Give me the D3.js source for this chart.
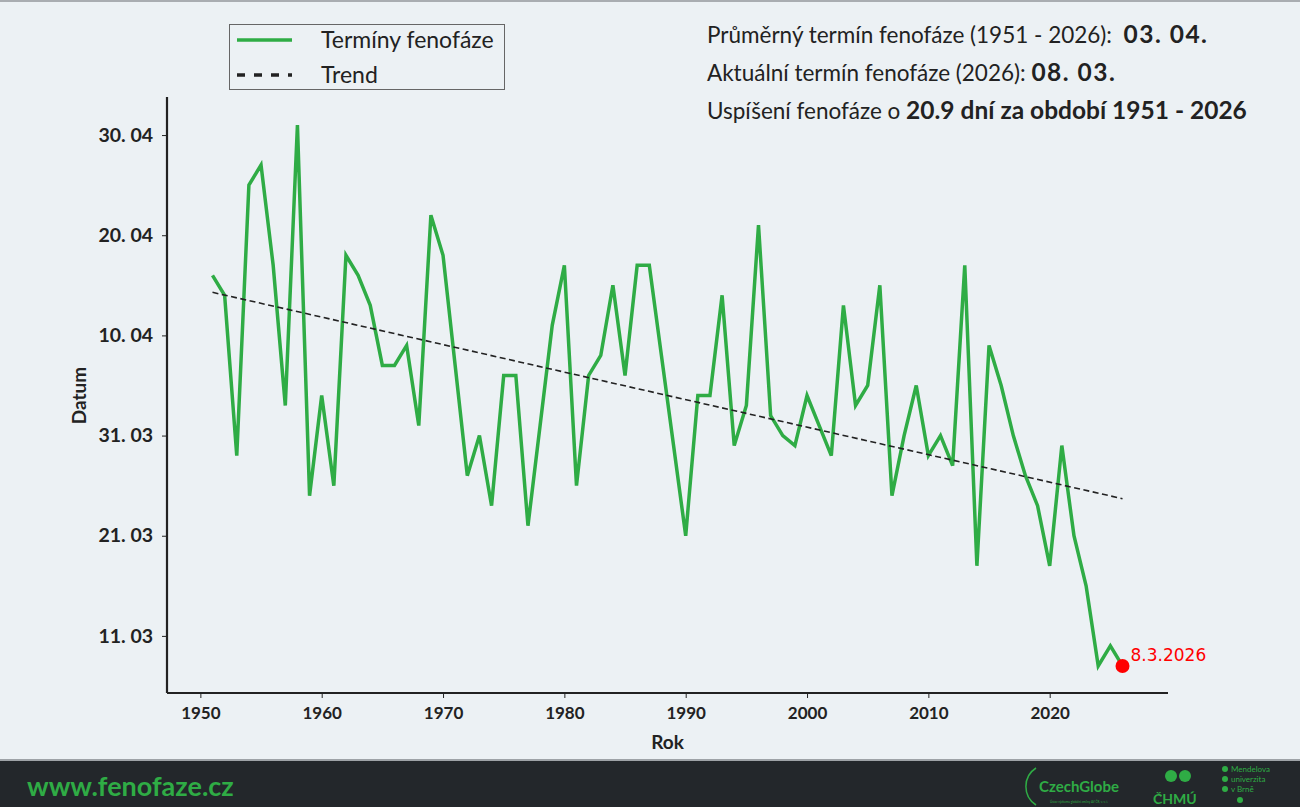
<!DOCTYPE html>
<html>
<head>
<meta charset="utf-8">
<script src="https://cdn.jsdelivr.net/npm/d3@7"></script>
<style>
  body { margin: 0; background: #ecf1f4; }
  svg { display: block; }
</style>
</head>
<body>
<div id="demo"></div>
<script>
var svgWidth = 1300
var svgHeight = 807

// years and day of year of the phenophase (1 = 1. 1.)
var years = [1951,1952,1953,1954,1955,1956,1957,1958,1959,1960,
             1961,1962,1963,1964,1965,1966,1967,1968,1969,1970,
             1971,1972,1973,1974,1975,1976,1977,1978,1979,1980,
             1981,1982,1983,1984,1985,1986,1987,1988,1989,1990,
             1991,1992,1993,1994,1995,1996,1997,1998,1999,2000,
             2001,2002,2003,2004,2005,2006,2007,2008,2009,2010,
             2011,2012,2013,2014,2015,2016,2017,2018,2019,2020,
             2021,2022,2023,2024,2025,2026]
var days = [106,104,88,115,117,107,93,121,84,94,
            85,108,106,103,97,97,99,91,112,108,
            97,86,90,83,96,96,81,91,101,107,
            85,96,98,105,96,107,107,98,89,80,
            94,94,104,89,93,111,92,90,89,94,
            91,88,103,93,95,105,84,90,95,88,
            90,87,107,77,99,95,90,86,83,77,
            89,80,75,67,69,67]

var xTicks = [1950,1960,1970,1980,1990,2000,2010,2020]
var yTicks = [70,80,90,100,110,120]
var yTickLabels = ["11. 03","21. 03","31. 03","10. 04","20. 04","30. 04"]

var legendLabels = ["Termíny fenofáze","Trend"]
var infoLines = [
    ["Průměrný termín fenofáze (1951 - 2026):  ", "03. 04."],
    ["Aktuální termín fenofáze (2026): ", "08. 03."],
    ["Uspíšení fenofáze o ", "20.9 dní za období 1951 - 2026"]
]
var lastLabel = "8.3.2026"

var green = "#2fac45"
var font = "Lato, 'Open Sans', sans-serif"

var svg = d3.select("#demo").append("svg")
    .attr("width", svgWidth)
    .attr("height", svgHeight)
    .style("font-family", font)

svg.append("rect")
    .attr("width", svgWidth).attr("height", svgHeight)
    .attr("fill", "#ecf1f4")
svg.append("rect")
    .attr("width", svgWidth).attr("height", 2)
    .attr("fill", "#a9adb1")

// axes area
var plotLeft = 167, plotRight = 1168, plotTop = 98, plotBottom = 693

// matplotlib style 5% margins
var xPad = (d3.max(years) - d3.min(years)) * 0.05
var yPad = (d3.max(days) - d3.min(days)) * 0.05
var x = d3.scaleLinear()
    .domain([d3.min(years) - xPad, d3.max(years) + xPad])
    .range([plotLeft, plotRight])
var y = d3.scaleLinear()
    .domain([d3.min(days) - yPad, d3.max(days) + yPad])
    .range([plotBottom, plotTop])

var data = years.map(function(d, i) { return {year: d, day: days[i]} })

// trend from least squares
var mx = d3.mean(years), my = d3.mean(days)
var sxy = d3.sum(data, function(d) { return (d.year - mx) * (d.day - my) })
var sxx = d3.sum(years, function(d) { return (d - mx) * (d - mx) })
var slope = sxy / sxx
var trend = [years[0], years[years.length - 1]].map(function(d) {
    return {year: d, day: my + slope * (d - mx)}
})

var line = d3.line()
    .x(function(d) { return x(d.year) })
    .y(function(d) { return y(d.day) })

svg.append("path")
    .datum(data)
    .attr("d", line)
    .attr("fill", "none")
    .attr("stroke", green)
    .attr("stroke-width", 3.5)
    .attr("stroke-linejoin", "miter")

svg.append("path")
    .datum(trend)
    .attr("d", line)
    .attr("fill", "none")
    .attr("stroke", "#222")
    .attr("stroke-width", 1.6)
    .attr("stroke-dasharray", "6,3.5")

// last point
var last = data[data.length - 1]
svg.append("circle")
    .attr("cx", x(last.year))
    .attr("cy", y(last.day))
    .attr("r", 7)
    .attr("fill", "#ff0000")
svg.append("text")
    .attr("x", x(last.year) + 8)
    .attr("y", y(last.day) - 5)
    .attr("fill", "#ff0000")
    .style("font-family", "'DejaVu Sans', sans-serif")
    .style("font-size", "17px")
    .text(lastLabel)

// x axis
var xAxis = svg.append("g")
    .attr("transform", "translate(0," + plotBottom + ")")
    .call(d3.axisBottom(x).tickValues(xTicks).tickFormat(d3.format("d")).tickSize(5).tickPadding(9))
xAxis.select(".domain").attr("stroke", "#222").attr("stroke-width", 2.2)
    .attr("d", "M" + plotLeft + ",0H" + plotRight)
xAxis.selectAll(".tick line").attr("stroke", "#222")
xAxis.selectAll("text")
    .style("font-family", font)
    .style("font-size", "17px")
    .style("font-weight", "bold")
    .attr("fill", "#222")

// y axis
var yAxis = svg.append("g")
    .attr("transform", "translate(" + plotLeft + ",0)")
    .call(d3.axisLeft(y).tickValues(yTicks)
        .tickFormat(function(d, i) { return yTickLabels[i] })
        .tickSize(5).tickPadding(9))
yAxis.select(".domain").attr("stroke", "#222").attr("stroke-width", 2.2)
    .attr("d", "M0," + (plotTop - 1) + "V" + plotBottom)
yAxis.selectAll(".tick line").attr("stroke", "#222")
yAxis.selectAll("text")
    .style("font-family", font)
    .style("font-size", "19.5px")
    .style("font-weight", "bold")
    .attr("fill", "#222")

svg.append("text")
    .attr("x", (plotLeft + plotRight) / 2)
    .attr("y", 749)
    .attr("text-anchor", "middle")
    .attr("fill", "#222")
    .style("font-size", "19px")
    .style("font-weight", "bold")
    .text("Rok")

svg.append("text")
    .attr("transform", "translate(86," + ((plotTop + plotBottom) / 2) + ") rotate(-90)")
    .attr("text-anchor", "middle")
    .attr("fill", "#222")
    .style("font-size", "19px")
    .style("font-weight", "bold")
    .text("Datum")

// legend
var legend = svg.append("g")
legend.append("rect")
    .attr("x", 229.5).attr("y", 24.5)
    .attr("width", 275).attr("height", 65)
    .attr("fill", "#ecf1f4")
    .attr("stroke", "#666")
legend.append("line")
    .attr("x1", 237).attr("x2", 292).attr("y1", 40).attr("y2", 40)
    .attr("stroke", green).attr("stroke-width", 3.5)
legend.append("line")
    .attr("x1", 237).attr("x2", 292).attr("y1", 75).attr("y2", 75)
    .attr("stroke", "#222").attr("stroke-width", 3.5)
    .attr("stroke-dasharray", "8,9")
legend.selectAll("text.lbl")
    .data(legendLabels)
    .enter().append("text")
    .attr("class", "lbl")
    .attr("x", 321)
    .attr("y", function(d, i) { return 48 + i * 35 })
    .attr("fill", "#222")
    .style("font-size", "23px")
    .text(function(d) { return d })

// info text top right
var info = svg.selectAll("text.info")
    .data(infoLines)
    .enter().append("text")
    .attr("class", "info")
    .attr("x", 707)
    .attr("y", function(d, i) { return 43 + i * 38 })
    .attr("fill", "#222")
    .style("font-size", "22.5px")
    .style("white-space", "pre")
info.append("tspan").text(function(d) { return d[0] })
info.append("tspan")
    .style("font-weight", "bold")
    .style("font-size", "24.5px")
    .style("letter-spacing", function(d, i) { return i == 2 ? "0px" : "1.5px" })
    .text(function(d) { return d[1] })

// footer
svg.append("rect")
    .attr("x", 0).attr("y", 759)
    .attr("width", svgWidth).attr("height", 2)
    .attr("fill", "#9ea3a7")
svg.append("rect")
    .attr("x", 0).attr("y", 761)
    .attr("width", svgWidth).attr("height", svgHeight - 761)
    .attr("fill", "#23272b")
svg.append("text")
    .attr("x", 27).attr("y", 796)
    .attr("fill", green)
    .style("font-size", "27px")
    .style("font-weight", "bold")
    .text("www.fenofaze.cz")

// logos
var logos = svg.append("g").attr("fill", green)
logos.append("path")
    .attr("d", "M1036,768 A22,22 0 0,0 1036,805")
    .attr("fill", "none").attr("stroke", green).attr("stroke-width", 1.5)
logos.append("text")
    .attr("x", 1039).attr("y", 792)
    .style("font-size", "15px").style("font-weight", "bold")
    .text("CzechGlobe")
logos.append("text")
    .attr("x", 1050).attr("y", 803)
    .style("font-size", "3px")
    .text("Ústav výzkumu globální změny AV ČR, v. v. i.")
logos.append("circle").attr("cx", 1171).attr("cy", 776).attr("r", 6)
logos.append("circle").attr("cx", 1185).attr("cy", 776).attr("r", 6)
logos.append("text")
    .attr("x", 1153).attr("y", 804)
    .style("font-size", "14px").style("font-weight", "bold")
    .text("ČHMÚ")
var mendel = ["Mendelova", "univerzita", "v Brně"]
logos.selectAll("text.mu")
    .data(mendel)
    .enter().append("text")
    .attr("class", "mu")
    .attr("x", 1231)
    .attr("y", function(d, i) { return 772 + i * 10 })
    .style("font-size", "8px")
    .text(function(d) { return d })
logos.selectAll("circle.mu")
    .data([769, 779, 789, 800])
    .enter().append("circle")
    .attr("class", "mu")
    .attr("cx", function(d, i) { return i == 3 ? 1240 : 1225 })
    .attr("cy", function(d) { return d })
    .attr("r", 3)
</script>
</body>
</html>
